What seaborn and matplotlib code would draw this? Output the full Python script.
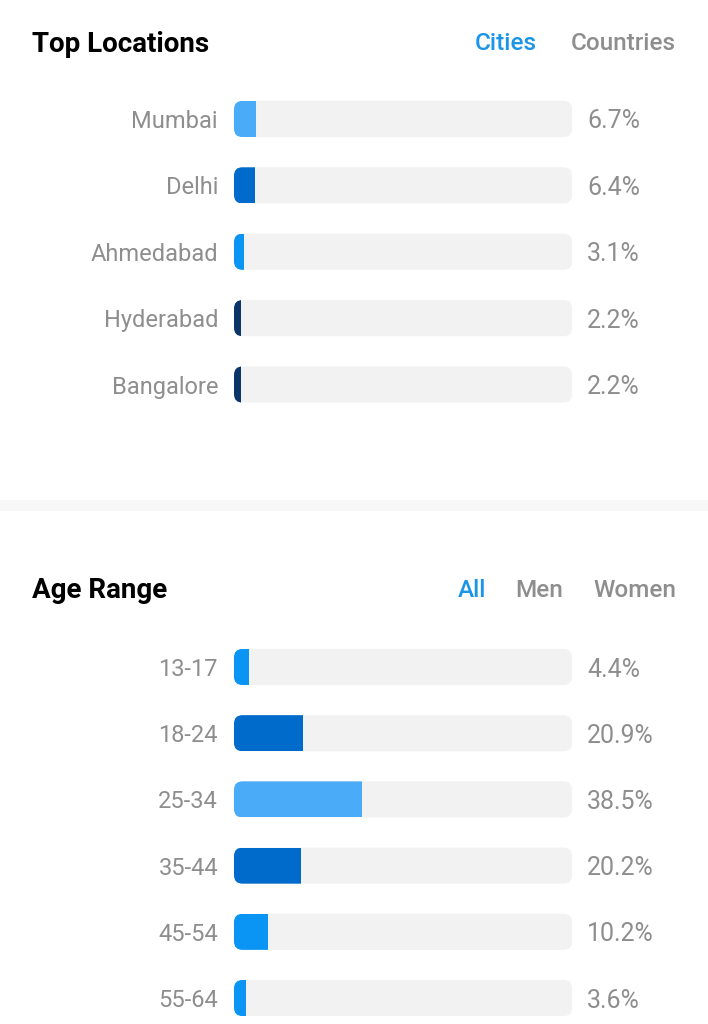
import numpy as np
import pandas as pd
import matplotlib.pyplot as plt
import matplotlib.transforms as mtransforms
from matplotlib.patches import FancyBboxPatch, Rectangle
import seaborn as sns

# data
cities = ['Mumbai', 'Delhi', 'Ahmedabad', 'Hyderabad', 'Bangalore']
city_pct = [6.7, 6.4, 3.1, 2.2, 2.2]
city_colors = ['#4aabf9', '#006bca', '#0a95f4', '#0b3568', '#0b3568']

ages = ['13-17', '18-24', '25-34', '35-44', '45-54', '55-64']
age_pct = [4.4, 20.9, 38.5, 20.2, 10.2, 3.6]
age_colors = ['#0a95f4', '#006bca', '#4aabf9', '#006bca', '#0a95f4', '#0a95f4']

sns.set_theme(style='white')
plt.rcParams['font.family'] = ['Roboto', 'DejaVu Sans']

W, H = 708, 1024
fig = plt.figure(figsize=(W / 100, H / 100), dpi=100)
fig.patch.set_facecolor('white')

GREY = '#8e8e8e'
BLUE = '#1a95e8'
TRACK = '#f2f2f2'
XMAX = 101.8  # track spans a bit more than 100%


def px_axes(left, top, right, bottom):
    # axes from pixel box
    return fig.add_axes([left / W, 1 - bottom / H, (right - left) / W, (bottom - top) / H])


def draw_panel(ax, labels, values, colors, ylim):
    df = pd.DataFrame({'label': labels, 'pct': values})
    sns.barplot(data=df, x='pct', y='label', hue='label',
                palette=dict(zip(labels, colors)), legend=False,
                width=0.545, saturation=1, ax=ax)
    ax.set_xlim(0, XMAX)
    ax.set_ylim(*ylim)

    pos = ax.get_position()
    px_x = pos.width * W / XMAX
    px_y = pos.height * H / abs(ylim[0] - ylim[1])
    asp = px_x / px_y
    r = 8.5 / px_x

    for bar in ax.patches:
        track = FancyBboxPatch((0, bar.get_y()), XMAX, bar.get_height(),
                               boxstyle=f'round,pad=0,rounding_size={r}',
                               mutation_aspect=asp, fc=TRACK, ec='none', zorder=0)
        ax.add_patch(track)
        bar.set_edgecolor('none')
        bar.set_zorder(1)
        bar.set_clip_path(track)

    trans = mtransforms.blended_transform_factory(ax.transAxes, ax.transData)
    for i, v in enumerate(values):
        ax.text(1 + 15 / (pos.width * W), i, f'{v}%', transform=trans,
                ha='left', va='center_baseline', fontsize=18, color=GREY)

    ax.set_xlabel('')
    ax.set_ylabel('')
    ax.set_xticks([])
    ax.tick_params(axis='y', length=0, pad=11.5, labelsize=17, labelcolor=GREY)
    sns.despine(ax=ax, left=True, bottom=True)
    ax.set_facecolor('none')


ax1 = px_axes(234, 85.8, 572, 417.7)
draw_panel(ax1, cities, city_pct, city_colors, (4.5, -0.5))

ax2 = px_axes(234, 633.9, 572, 1021.2)
draw_panel(ax2, ages, age_pct, age_colors, (5.35, -0.5))

# headers
fig.text(32 / W, 1 - 41 / H, 'Top Locations', fontsize=20, weight='bold', color='black', va='center_baseline')
fig.text(537 / W, 1 - 41 / H, 'Cities', fontsize=17.5, weight='medium', color=BLUE, va='center_baseline', ha='right')
fig.text(676 / W, 1 - 41 / H, 'Countries', fontsize=17.5, weight='medium', color=GREY, va='center_baseline', ha='right')

fig.text(32 / W, 1 - 588 / H, 'Age Range', fontsize=20, weight='bold', color='black', va='center_baseline')
fig.text(486 / W, 1 - 588 / H, 'All', fontsize=17.5, weight='medium', color=BLUE, va='center_baseline', ha='right')
fig.text(563 / W, 1 - 588 / H, 'Men', fontsize=17.5, weight='medium', color=GREY, va='center_baseline', ha='right')
fig.text(676 / W, 1 - 588 / H, 'Women', fontsize=17.5, weight='medium', color=GREY, va='center_baseline', ha='right')

# light divider between the two cards
fig.add_artist(Rectangle((0, 1 - 511 / H), 1, 11 / H, transform=fig.transFigure,
                         fc='#f7f7f7', ec='none', zorder=0))

fig.savefig('out.png', dpi=100)
